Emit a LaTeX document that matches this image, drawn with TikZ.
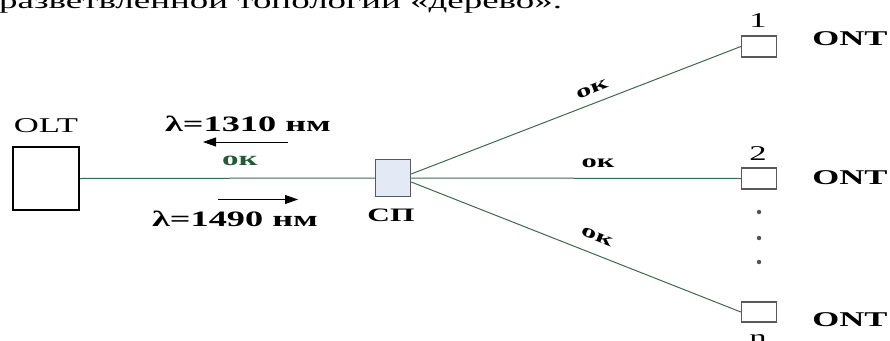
\documentclass[tikz,border=0pt]{standalone}
\usepackage{fontspec}
\usepackage{graphicx}
\setmainfont{Liberation Serif}
\usetikzlibrary{arrows.meta}
\definecolor{fibre}{RGB}{62,106,76}
\definecolor{fibretext}{RGB}{38,88,55}
\definecolor{splitfill}{RGB}{227,233,245}
\definecolor{boxgray}{RGB}{90,90,90}
\newcommand{\wide}[1]{\scalebox{1.65}[1]{#1}}
\tikzset{
  txt/.style={inner sep=0pt, font=\fontsize{21}{24}\selectfont},
  btxt/.style={inner sep=0pt, font=\fontsize{21}{24}\selectfont\bfseries},
  oktxt/.style={inner sep=0pt, font=\fontsize{18.5}{22}\selectfont\bfseries},
  lam/.style={inner sep=0pt, font=\fontsize{22}{26}\selectfont\bfseries},
  fiber/.style={draw=fibre, line width=1pt},
  ontbox/.style={draw=boxgray, line width=1.3pt, fill=white, minimum width=35pt, minimum height=21pt, inner sep=0pt},
  waveline/.style={draw=black, line width=1pt, -{Triangle[length=13pt,width=9pt]}},
}
\begin{document}
\begin{tikzpicture}[x=1pt,y=-1pt]
\clip (0,0) rectangle (890,340);
\useasboundingbox (0,0) rectangle (890,340);

% running text of the page above the figure
\node[anchor=base west, inner sep=0pt, font=\fontsize{22.4}{26}\selectfont] (head) at (-1,8.5)
  {\wide{разветвленной топологии «дерево».}};

% OLT
\node[draw=black, line width=2.3pt, minimum width=66pt, minimum height=63pt, inner sep=0pt] (olt) at (46,178.5) {};
\node[txt] (oltlbl) at (46,126) {\wide{OLT}};

% splitter
\node[draw=boxgray, fill=splitfill, line width=1.4pt, minimum width=35pt, minimum height=37pt, inner sep=0pt] (sp) at (393,178) {};
\node[btxt, font=\fontsize{19}{22}\selectfont\bfseries] (splbl) at (391,215) {\wide{СП}};

% ONT boxes
\node[ontbox] (ont1) at (759,46.5) {};
\node[ontbox] (ont2) at (759,178.5) {};
\node[ontbox, minimum height=20pt] (ontn) at (759,312) {};

\node[txt] (n1) at (758,21) {\wide{1}};
\node[txt] (n2) at (758,154) {\wide{2}};
\node[txt, anchor=base] (nn) at (758,344) {\wide{n}};

\node[btxt] (ont1lbl) at (850,38.5) {\wide{ONT}};
\node[btxt] (ont2lbl) at (850,178) {\wide{ONT}};
\node[btxt] (ontnlbl) at (850,320) {\wide{ONT}};

% dots between ONT 2 and ONT n
\foreach \yy/\nm in {212/d1,238/d2,262/d3}
  \node[circle, fill=gray!65!black, inner sep=0pt, minimum size=4.5pt] (\nm) at (759,\yy) {};

% fibres
\draw[fiber] (olt.east) -- (sp.west);
\draw[fiber] ([yshift=4pt]sp.east) -- (ont1.west);
\draw[fiber] (sp.east) -- (ont2.west);
\draw[fiber] ([yshift=-4pt]sp.east) -- (ontn.west);

% fibre labels
\node[btxt, font=\fontsize{20}{24}\selectfont\bfseries, text=fibretext] (okmain) at (240,161) {\wide{ок}};
\node[oktxt, rotate=21.6] (ok1) at (592,89) {\wide{ок}};
\node[oktxt] (ok2) at (598,163) {\wide{ок}};
\node[oktxt, rotate=-22] (ok3) at (597,237) {\wide{ок}};

% wavelengths and directions
\node[lam] (up) at (248,124) {\wide{λ=1310 нм}};
\node[lam] (down) at (235,219) {\wide{λ=1490 нм}};
\coordinate (ua) at (288,142);
\coordinate (ub) at (203,142);
\coordinate (da) at (218,199.5);
\coordinate (db) at (298,199.5);
\draw[waveline] (ua) -- (ub);
\draw[waveline] (da) -- (db);
\end{tikzpicture}
\end{document}
